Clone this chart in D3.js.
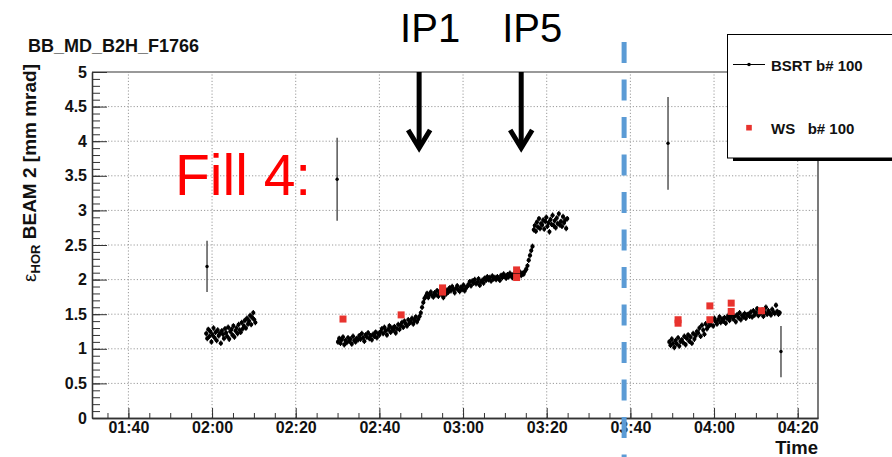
<!DOCTYPE html>
<html><head><meta charset="utf-8">
<script src="https://cdn.jsdelivr.net/npm/d3@7"></script>
<style>
html,body{margin:0;padding:0;background:#fff;}
svg{display:block;}
text{font-family:"Liberation Sans",Arial,Helvetica,sans-serif;}
</style></head><body>
<svg id="chart" width="892" height="457"></svg>
<script>
// Times are minutes after midnight.
const xTickValues = [100, 120, 140, 160, 180, 200, 220, 240, 260];
const xTickLabels = ["01:40", "02:00", "02:20", "02:40", "03:00", "03:20", "03:40", "04:00", "04:20"];
const yTickValues = [0, 0.5, 1, 1.5, 2, 2.5, 3, 3.5, 4, 4.5, 5];
const yTickLabels = ["0", "0.5", "1", "1.5", "2", "2.5", "3", "3.5", "4", "4.5", "5"];

// BSRT acquisition blocks: first sample time and logging interval (min)
const bsrtBlockStart = [118.6, 150.1, 196.9, 229.3];
const bsrtBlockStep = [0.25, 0.3, 0.25, 0.3];
// per-sample statistical error of the BSRT fits
const bsrtSampleError = 0.04;

// BSRT emittance, block 1 (01:58 - 02:10)
const bsrtBlock1 = [
  1.22,1.15,1.28,1.18,1.25,1.10,1.20,1.30,1.16,1.24,1.12,1.27,1.19,1.22,1.08,1.26,
  1.21,1.15,1.29,1.23,1.18,1.31,1.14,1.25,1.28,1.20,1.33,1.17,1.26,1.30,1.22,1.35,
  1.27,1.24,1.38,1.29,1.33,1.41,1.30,1.44,1.36,1.40,1.48,1.35,1.45,1.52,1.42,1.38
];
// BSRT emittance, block 2 (02:30 - 03:16)
const bsrtBlock2 = [
  1.10,1.15,1.08,1.13,1.17,1.06,1.12,1.09,1.16,1.11,
  1.14,1.07,1.18,1.12,1.10,1.15,1.13,
  1.19,1.14,1.22,1.16,1.11,1.20,1.17,1.23,1.15,1.19,
  1.13,1.21,1.18,1.24,1.16,1.22,1.20,
  1.25,1.29,1.22,1.31,1.26,1.20,1.28,1.33,1.24,1.30,
  1.27,1.32,1.23,1.29,1.35,1.28,
  1.34,1.38,1.31,1.40,1.36,1.33,1.42,1.37,1.39,1.44,
  1.36,1.41,1.46,1.39,1.43,1.47,
  1.52,1.60,1.67,1.73,
  1.76,1.80,1.74,1.79,1.82,1.77,1.75,1.81,1.78,1.84,
  1.76,1.80,1.83,1.78,1.74,1.81,1.79,
  1.85,1.82,1.88,1.84,1.90,1.86,1.81,1.87,1.91,1.85,
  1.83,1.89,1.86,1.92,1.84,1.88,1.90,
  1.93,1.97,1.91,1.98,1.95,2.00,1.94,1.96,2.01,1.92,
  1.97,1.99,1.95,
  2.02,1.99,2.04,2.00,2.03,1.98,2.05,2.01,2.03,2.00,
  2.04,2.02,1.99,
  2.06,2.03,2.08,2.05,2.02,2.07,2.04,2.09,2.06,2.03,
  2.08,2.05,2.10,2.04,2.07,2.11,2.06,2.09,2.08,
  2.12,2.15,2.20,2.28,2.35,2.42,2.48
];
// BSRT emittance, block 3 (03:17 - 03:25)
const bsrtBlock3 = [
  2.72,2.78,2.70,2.83,2.76,2.88,2.74,2.81,2.79,2.86,
  2.73,2.84,2.90,2.77,2.82,2.69,2.87,2.80,2.93,2.78,
  2.85,2.75,2.89,2.81,2.95,2.79,2.84,2.77,2.91,2.82,
  2.86,2.74,2.88
];
// BSRT emittance, block 4 (03:49 - 04:16)
const bsrtBlock4 = [
  1.10,1.05,1.14,1.08,1.02,1.12,1.07,1.16,1.04,1.11,
  1.13,1.09,1.18,1.06,1.15,1.20,1.11,1.17,1.08,1.22,1.14,1.19,1.25,
  1.23,1.30,1.18,1.34,1.27,1.21,1.36,1.29,1.32,1.38,
  1.35,1.41,1.33,1.44,1.39,1.36,1.42,1.46,1.38,1.43,1.40,1.45,1.37,
  1.44,1.48,1.41,1.46,1.50,1.43,1.47,1.39,1.49,1.45,1.52,1.42,1.48,1.46,1.51,1.44,1.49,
  1.50,1.47,1.53,1.46,1.55,1.49,1.52,1.58,1.48,1.54,1.51,1.56,1.47,1.53,1.60,1.50,
  1.55,1.52,1.49,1.57,1.53,1.51,1.63,1.54,1.50,1.52
];

// Isolated BSRT samples with large uncertainty
const bsrtSingleTime = [118.8, 149.9, 229.0, 256.0];
const bsrtSingleValue = [2.19, 3.45, 3.97, 0.96];
const bsrtSingleError = [0.37, 0.60, 0.67, 0.37];

// Wire scanner measurements
const wsTime = [151.3, 165.2, 175.1, 175.1, 192.8, 192.8, 231.4, 231.4, 239.0, 239.0, 244.1, 244.1, 251.35];
const wsValue = [1.43, 1.49, 1.82, 1.88, 2.14, 2.03, 1.37, 1.42, 1.62, 1.42, 1.66, 1.54, 1.55];

// Annotations
const ipLabels = ["IP1", "IP5"];
const ipTimes = [169.5, 193.9];
const fillLabel = "Fill 4:";
const fillEndTime = 218.5;

const svg = d3.select("#chart");
const L = 92, R = 818, T = 72, B = 418;

const x = d3.scaleLinear().domain([91.3, 264.85]).range([L, R]);
const y = d3.scaleLinear().domain([0, 5]).range([B, T]);

// grid
const grid = svg.append("g").attr("stroke", "#9a9a9a").attr("stroke-width", 1).attr("stroke-dasharray", "1.2,2");
grid.selectAll("line.gx").data(xTickValues).join("line").attr("class", "gx")
  .attr("x1", d => x(d)).attr("x2", d => x(d)).attr("y1", B).attr("y2", T);
grid.selectAll("line.gy").data(yTickValues.filter(v => v > 0 && v < 5)).join("line").attr("class", "gy")
  .attr("x1", L).attr("x2", R).attr("y1", d => y(d)).attr("y2", d => y(d));

// frame
svg.append("line").attr("x1", L).attr("x2", R).attr("y1", T).attr("y2", T).attr("stroke", "#777").attr("stroke-width", 1.3);
svg.append("line").attr("x1", R).attr("x2", R).attr("y1", T).attr("y2", B).attr("stroke", "#333").attr("stroke-width", 1.3);

// axes
const yMinor = d3.range(0, 5.001, 0.1);
const xMinor = d3.range(95, 264, 5);

const yAxisMinor = svg.append("g").attr("transform", `translate(${L},0)`)
  .call(d3.axisLeft(y).tickValues(yMinor).tickSize(-8).tickSizeOuter(0).tickFormat(""));
const yAxis = svg.append("g").attr("transform", `translate(${L},0)`)
  .call(d3.axisLeft(y).tickValues(yTickValues).tickSize(-15).tickSizeOuter(0).tickPadding(5)
    .tickFormat((d, i) => yTickLabels[i]));
const xAxisMinor = svg.append("g").attr("transform", `translate(0,${B})`)
  .call(d3.axisBottom(x).tickValues(xMinor).tickSize(-5).tickSizeOuter(0).tickFormat(""));
const xAxis = svg.append("g").attr("transform", `translate(0,${B})`)
  .call(d3.axisBottom(x).tickValues(xTickValues).tickSize(-10).tickSizeOuter(0).tickPadding(4)
    .tickFormat((d, i) => xTickLabels[i]));
[yAxisMinor, yAxis, xAxisMinor, xAxis].forEach(g => {
  g.selectAll("path.domain").attr("stroke", "#333").attr("stroke-width", 1.3);
  g.selectAll(".tick line").attr("stroke", "#333").attr("stroke-width", 1);
});
[yAxis, xAxis].forEach(g => g.selectAll("text")
  .attr("font-family", "Liberation Sans, Arial, sans-serif")
  .attr("font-size", 16).attr("font-weight", "bold").attr("fill", "#111"));

// axis titles
svg.append("text").attr("x", R).attr("y", 454).attr("text-anchor", "end")
  .attr("font-size", 18.5).attr("font-weight", "bold").attr("fill", "#111").text("Time");
const yt = svg.append("text").attr("transform", "translate(36,64) rotate(-90)")
  .attr("text-anchor", "end").attr("fill", "#111").attr("font-size", 19);
yt.append("tspan").attr("font-weight", "normal").text("ε");
yt.append("tspan").attr("font-weight", "bold").attr("font-size", 13).attr("dy", 4).text("HOR");
yt.append("tspan").attr("font-weight", "bold").attr("dy", -4).text(" BEAM 2 [mm mrad]");

// plot title
svg.append("text").attr("x", 28).attr("y", 52).attr("font-size", 18).attr("font-weight", "bold")
  .attr("fill", "#111").text("BB_MD_B2H_F1766");

// BSRT samples with their error bars
const blocks = [bsrtBlock1, bsrtBlock2, bsrtBlock3, bsrtBlock4];
const bsrtPoints = blocks.flatMap((vals, b) =>
  vals.map((v, i) => ({ t: bsrtBlockStart[b] + i * bsrtBlockStep[b], v })));
const bg = svg.append("g");
bg.selectAll("line").data(bsrtPoints).join("line")
  .attr("x1", d => x(d.t)).attr("x2", d => x(d.t))
  .attr("y1", d => y(d.v - bsrtSampleError)).attr("y2", d => y(d.v + bsrtSampleError))
  .attr("stroke", "#000").attr("stroke-width", 1.2);
bg.selectAll("circle").data(bsrtPoints).join("circle")
  .attr("cx", d => x(d.t)).attr("cy", d => y(d.v)).attr("r", 2.1).attr("fill", "#000");

const singles = bsrtSingleTime.map((t, i) => ({ t, v: bsrtSingleValue[i], e: bsrtSingleError[i] }));
const sg = svg.append("g");
sg.selectAll("line").data(singles).join("line")
  .attr("x1", d => x(d.t)).attr("x2", d => x(d.t))
  .attr("y1", d => y(d.v - d.e)).attr("y2", d => y(d.v + d.e))
  .attr("stroke", "#555").attr("stroke-width", 1.5);
sg.selectAll("circle").data(singles).join("circle")
  .attr("cx", d => x(d.t)).attr("cy", d => y(d.v)).attr("r", 1.7).attr("fill", "#000");

// wire scanner
const ws = wsTime.map((t, i) => ({ t, v: wsValue[i] }));
const sq = 7;
svg.append("g").selectAll("rect").data(ws).join("rect")
  .attr("x", d => x(d.t) - sq / 2).attr("y", d => y(d.v) - sq / 2)
  .attr("width", sq).attr("height", sq).attr("fill", "#e8332e");

// legend
svg.append("rect").attr("x", 733).attr("y", 40).attr("width", 200).attr("height", 121).attr("fill", "#000");
svg.append("rect").attr("x", 727.5).attr("y", 34.5).attr("width", 200).attr("height", 123.5)
  .attr("fill", "#fff").attr("stroke", "#000").attr("stroke-width", 1);
svg.append("line").attr("x1", 733).attr("x2", 765).attr("y1", 64.5).attr("y2", 64.5).attr("stroke", "#000").attr("stroke-width", 1);
svg.append("circle").attr("cx", 749).attr("cy", 64.5).attr("r", 1.8).attr("fill", "#000");
svg.append("text").attr("x", 771).attr("y", 70.5).attr("font-size", 15).attr("font-weight", "bold")
  .attr("fill", "#111").text("BSRT b# 100");
svg.append("rect").attr("x", 746.2).attr("y", 124.9).attr("width", 5.6).attr("height", 5.6).attr("fill", "#e8332e");
svg.append("text").attr("x", 771).attr("y", 133.5).attr("font-size", 15).attr("font-weight", "bold")
  .attr("fill", "#111").style("white-space", "pre").text("WS   b# 100");

// end-of-fill marker
svg.append("line").attr("x1", x(fillEndTime)).attr("x2", x(fillEndTime)).attr("y1", 42).attr("y2", 460)
  .attr("stroke", "#5b9bd5").attr("stroke-width", 5).attr("stroke-dasharray", "21,16.5");

// IP arrows and labels
const ann = svg.append("g");
ipTimes.forEach((t, i) => {
  const ax = x(t);
  ann.append("line").attr("x1", ax).attr("x2", ax).attr("y1", T).attr("y2", 148)
    .attr("stroke", "#000").attr("stroke-width", 5);
  ann.append("polyline").attr("points", `${ax - 11},${130} ${ax},${148} ${ax + 11},${130}`)
    .attr("fill", "none").attr("stroke", "#000").attr("stroke-width", 5).attr("stroke-linejoin", "miter");
  ann.append("text").attr("x", ax + 11).attr("y", 42).attr("text-anchor", "middle")
    .attr("font-family", "Lato, 'Open Sans', sans-serif").attr("font-size", 40).attr("fill", "#000")
    .text(ipLabels[i]);
});
svg.append("text").attr("x", 175).attr("y", 195)
  .attr("font-family", "Lato, 'Open Sans', sans-serif").attr("font-size", 57).attr("fill", "#ff0000")
  .text(fillLabel);
</script>
</body></html>
